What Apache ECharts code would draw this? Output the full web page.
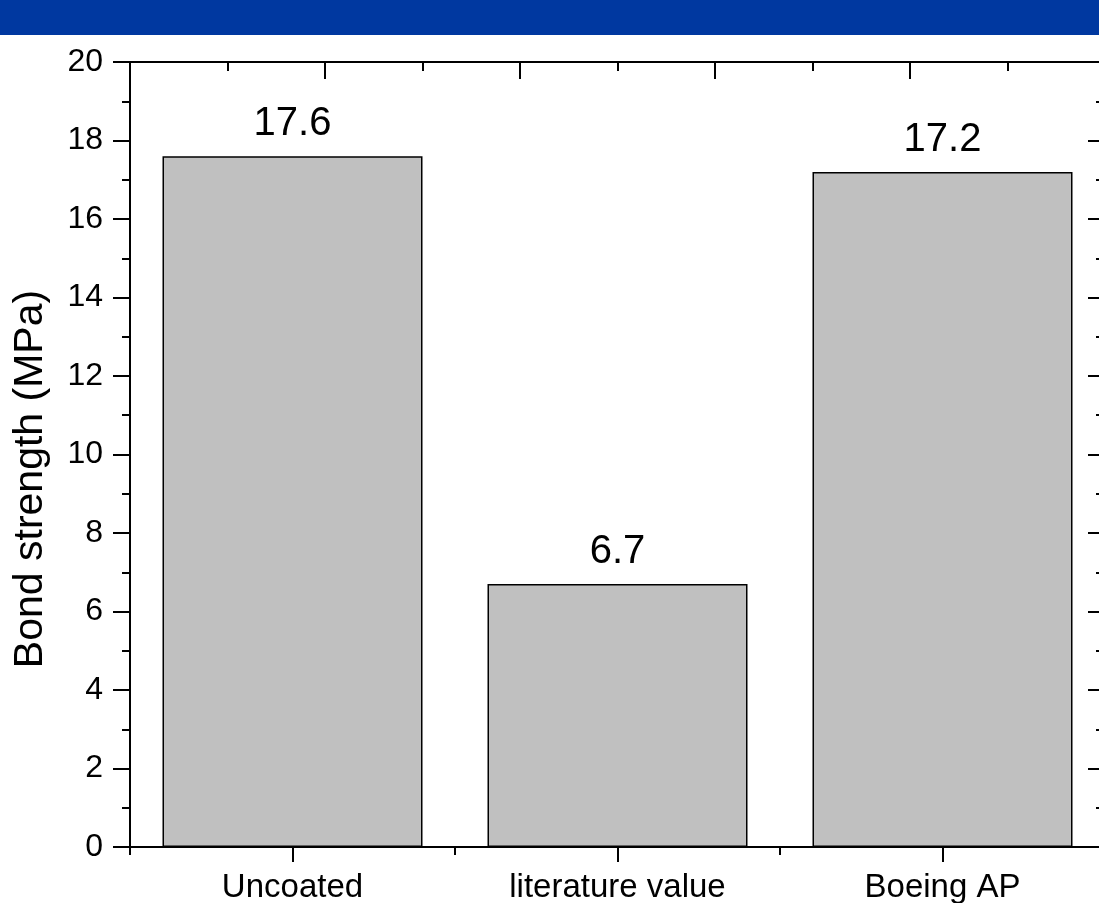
<!DOCTYPE html>
<html>
<head>
<meta charset="utf-8">
<script src="https://cdn.jsdelivr.net/npm/echarts@6/dist/echarts.min.js"></script>
<style>html,body{margin:0;padding:0;background:#fff;}#c{width:1099px;height:903px;}</style>
</head>
<body>
<div id="c"></div>
<script>
const categories = ['Uncoated', 'literature value', 'Boeing AP'];
const bondStrength = [17.6, 6.7, 17.2];
const yTicks = { min: 0, max: 20, interval: 2 };
const yAxisName = 'Bond strength (MPa)';

const FONT = '"Liberation Sans", Arial, sans-serif';
const chart = echarts.init(document.getElementById('c'), null, { renderer: 'canvas' });
const axisLineStyle = { color: '#000', width: 2 };

chart.setOption({
  animation: false,
  backgroundColor: '#fff',
  grid: { left: 130, top: 62, right: -6, bottom: 56, containLabel: false, outerBoundsMode: 'none' },
  graphic: [
    { type: 'rect', left: 0, top: 0, shape: { width: 1099, height: 35 }, style: { fill: '#0038A0' }, z: 100 },
    { type: 'text', x: 31, y: 479, rotation: Math.PI / 2,
      style: { text: yAxisName, font: '41px ' + FONT, fill: '#000', textAlign: 'center', textVerticalAlign: 'middle' } }
  ],
  xAxis: [
    { type: 'category', data: categories, position: 'bottom',
      axisLine: { show: true, lineStyle: axisLineStyle },
      axisTick: { show: true, alignWithLabel: true, length: 15, lineStyle: { color: '#000', width: 2 } },
      axisLabel: { color: '#000', fontFamily: FONT, fontSize: 33, margin: 24 },
      splitLine: { show: false } },
    { type: 'category', data: categories, position: 'bottom',
      axisLine: { show: false },
      axisTick: { show: true, length: 8, lineStyle: { color: '#000', width: 2 } },
      axisLabel: { show: false }, splitLine: { show: false } },
    { type: 'value', position: 'top', min: 0, max: 5, interval: 1,
      axisLine: { show: true, lineStyle: axisLineStyle },
      axisTick: { show: true, inside: true, length: 17, lineStyle: { color: '#000', width: 2 } },
      minorTick: { show: true, splitNumber: 2, length: 9, lineStyle: { color: '#000', width: 2 } },
      axisLabel: { show: false }, splitLine: { show: false }, minorSplitLine: { show: false } }
  ],
  yAxis: [
    { type: 'value', position: 'left', min: yTicks.min, max: yTicks.max, interval: yTicks.interval,
      axisLine: { show: true, lineStyle: axisLineStyle },
      axisTick: { show: true, length: 17, lineStyle: { color: '#000', width: 2 } },
      minorTick: { show: true, splitNumber: 2, length: 8, lineStyle: { color: '#000', width: 2 } },
      axisLabel: { color: '#000', fontFamily: FONT, fontSize: 32, margin: 27 },
      splitLine: { show: false }, minorSplitLine: { show: false } },
    { type: 'value', position: 'right', min: yTicks.min, max: yTicks.max, interval: yTicks.interval,
      axisLine: { show: true, lineStyle: axisLineStyle },
      axisTick: { show: true, inside: true, length: 17, lineStyle: { color: '#000', width: 2 } },
      minorTick: { show: true, splitNumber: 2, length: 9, lineStyle: { color: '#000', width: 2 } },
      axisLabel: { show: false },
      splitLine: { show: false }, minorSplitLine: { show: false } }
  ],
  series: [{
    type: 'bar', xAxisIndex: 0, yAxisIndex: 0,
    data: bondStrength,
    barWidth: '80%',
    itemStyle: { color: '#C0C0C0', borderColor: '#000', borderWidth: 1.5 },
    label: { show: true, position: 'top', distance: 12, color: '#000', fontFamily: FONT, fontSize: 40,
      formatter: p => p.value.toFixed(1) }
  }]
});
</script>
</body>
</html>
